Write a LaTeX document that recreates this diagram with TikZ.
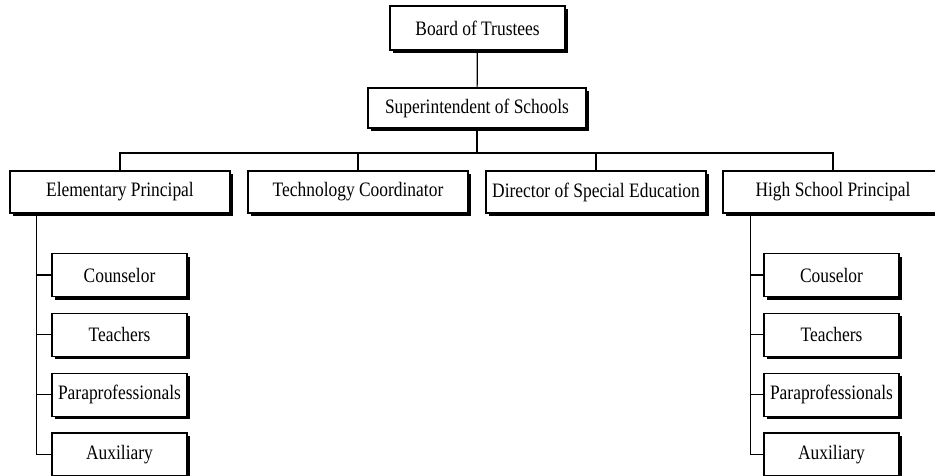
\documentclass[tikz,border=0pt]{standalone}
\usepackage{fontspec}
\setmainfont{Liberation Serif}[FakeStretch=0.85]
\usepackage{tikz}
\usetikzlibrary{positioning, shadows}

\begin{document}
\begin{tikzpicture}[x=1pt, y=-1pt,
  orgbox/.style={rectangle, draw=black, line width=1.2pt, fill=white, inner sep=0pt,
    minimum width=220pt, minimum height=42pt, align=center,
    font=\fontsize{20.5}{24}\selectfont,
    drop shadow={shadow xshift=3pt, shadow yshift=-3pt, fill=black, opacity=1}},
  subbox/.style={orgbox, minimum width=135pt, minimum height=43pt},
  link/.style={draw=black, line width=1.2pt},
  node distance=15.6pt
]
  \clip (0,0) rectangle (935,475);

  \node[orgbox, minimum width=175pt, minimum height=44pt] (board) at (477.5,28) {Board of Trustees};
  \node[orgbox, minimum width=218pt, minimum height=40pt] (super) at (477,108) {Superintendent of Schools};

  \node[orgbox] (elem) at (120,192) {Elementary Principal};
  \node[orgbox] (tech) at (358,192) {Technology Coordinator};
  \node[orgbox] (dir) at (596,192) {Director of Special Education};
  \node[orgbox] (high) at (833,192) {High School Principal};

  % elementary staff
  \node[subbox] (ec1) at (119.5,275) {Counselor};
  \node[subbox, below=of ec1] (ec2) {Teachers};
  \node[subbox, below=of ec2] (ec3) {Paraprofessionals};
  \node[subbox, below=of ec3] (ec4) {Auxiliary};

  % high school staff
  \node[subbox] (hc1) at (831.5,275) {Couselor};
  \node[subbox, below=of hc1] (hc2) {Teachers};
  \node[subbox, below=of hc2] (hc3) {Paraprofessionals};
  \node[subbox, below=of hc3] (hc4) {Auxiliary};

  \coordinate (bus) at (477,153);
  \draw[link] (board) -- (super);
  \draw[link] (super) -- (bus);
  \draw[link] (elem.north) |- (bus) -| (high.north);
  \draw[link] (tech.north) -- (tech.north |- bus);
  \draw[link] (dir.north) -- (dir.north |- bus);

  \foreach \c in {ec1, ec2, ec3, ec4}
    \draw[link] ([xshift=27pt]elem.south west) |- (\c.west);
  \foreach \c in {hc1, hc2, hc3, hc4}
    \draw[link] ([xshift=28pt]high.south west) |- (\c.west);
\end{tikzpicture}
\end{document}
